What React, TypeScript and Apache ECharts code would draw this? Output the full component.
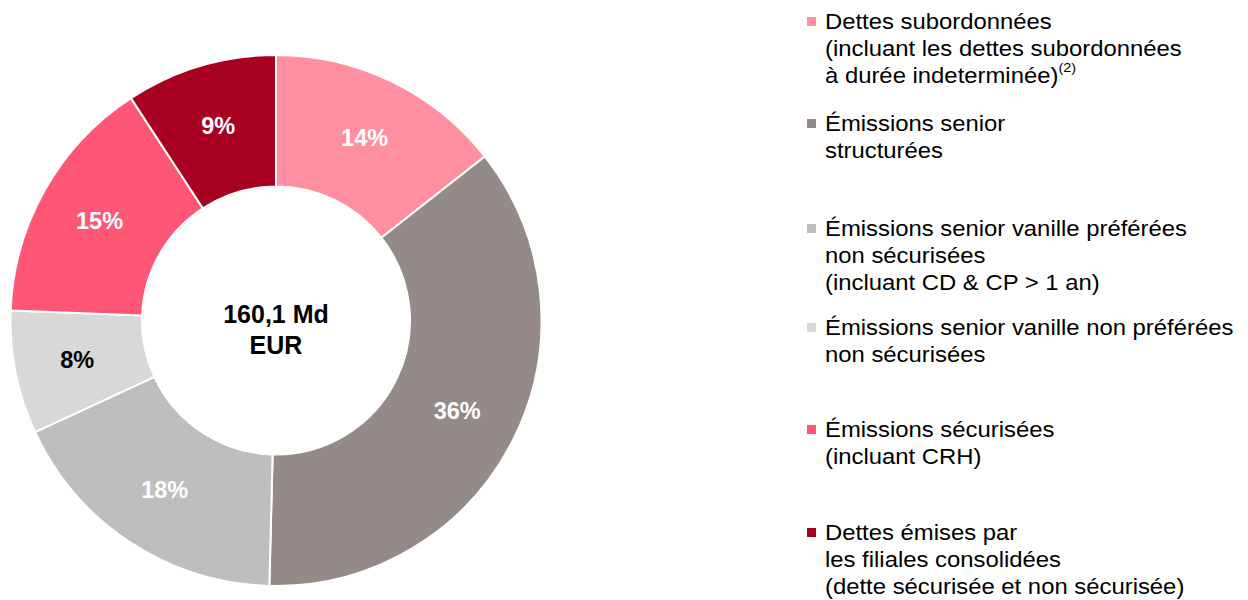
import React, { useEffect, useRef } from "react";
import * as echarts from "echarts";

const categories = [
  "Dettes subordonnées\n(incluant les dettes subordonnées\nà durée indeterminée)",
  "Émissions senior\nstructurées",
  "Émissions senior vanille préférées\nnon sécurisées\n(incluant CD & CP > 1 an)",
  "Émissions senior vanille non préférées\nnon sécurisées",
  "Émissions sécurisées\n(incluant CRH)",
  "Dettes émises par\nles filiales consolidées\n(dette sécurisée et non sécurisée)",
];
const footnotes = ["(2)", "", "", "", "", ""];
const values = [14.4, 36.0, 17.7, 7.5, 15.2, 9.2];
const colors = ["#FF8FA1", "#948B89", "#BEBEBE", "#D9D8D6", "#FF5676", "#A80021"];
const labelColors = ["#FFFFFF", "#FFFFFF", "#FFFFFF", "#000000", "#FFFFFF", "#FFFFFF"];
const totalLines = ["160,1 Md", "EUR"];

// layout
const FONT = '"Liberation Sans", Arial, sans-serif';
const legendBaselines = [29, 131, 236, 335, 437, 540];
const LEGEND_TEXT_X = 825;
const LEGEND_MARK_X = 807;
const LEGEND_FS = 21.5;
const LEGEND_LH = 26.7;
const LEGEND_SCALE_X = 1.11;

export default function App() {
  const ref = useRef<HTMLDivElement>(null);

  useEffect(() => {
    if (!ref.current) return;
    const chart = echarts.init(ref.current, null, { renderer: "svg" });

    const legendGraphics: any[] = [];
    categories.forEach((cat, i) => {
      const base = legendBaselines[i];
      legendGraphics.push({
        type: "rect",
        shape: { x: LEGEND_MARK_X, y: base - 12, width: 9, height: 9 },
        style: { fill: colors[i] },
        silent: true,
      });
      const txt = footnotes[i] ? cat + "{sup|" + footnotes[i] + "}" : cat;
      legendGraphics.push({
        type: "text",
        x: LEGEND_TEXT_X,
        y: base - 7.45 - LEGEND_LH / 2,
        scaleX: LEGEND_SCALE_X,
        silent: true,
        style: {
          text: txt,
          fill: "#000000",
          fontFamily: FONT,
          fontSize: LEGEND_FS,
          lineHeight: LEGEND_LH,
          verticalAlign: "top",
          align: "left",
          rich: {
            sup: {
              fontFamily: FONT,
              fontSize: 13,
              lineHeight: 19,
              verticalAlign: "top",
              fill: "#000000",
            },
          },
        },
      });
    });

    chart.setOption({
      animation: false,
      backgroundColor: "#FFFFFF",
      series: [
        {
          type: "pie",
          center: [276, 320.5],
          radius: [134, 265.5],
          startAngle: 90,
          clockwise: true,
          avoidLabelOverlap: false,
          itemStyle: { borderColor: "#FFFFFF", borderWidth: 2 },
          label: {
            show: true,
            position: "inside",
            fontFamily: FONT,
            fontSize: 23.5,
            fontWeight: "bold",
            formatter: (p: any) => Math.round(p.percent) + "%",
          },
          labelLine: { show: false },
          emphasis: { disabled: true },
          data: values.map((v, i) => ({
            value: v,
            name: categories[i],
            itemStyle: { color: colors[i] },
            label: { color: labelColors[i] },
          })),
        },
      ],
      graphic: [
        {
          type: "text",
          x: 276,
          y: 329,
          silent: true,
          style: {
            text: totalLines.join("\n"),
            fill: "#000000",
            fontFamily: FONT,
            fontSize: 25,
            fontWeight: "bold",
            lineHeight: 31,
            align: "center",
            verticalAlign: "middle",
          },
        },
        ...legendGraphics,
      ],
    });

    return () => chart.dispose();
  }, []);

  return (
    <div
      ref={ref}
      style={{ position: "absolute", left: 0, top: 0, width: 1248, height: 600 }}
    />
  );
}
